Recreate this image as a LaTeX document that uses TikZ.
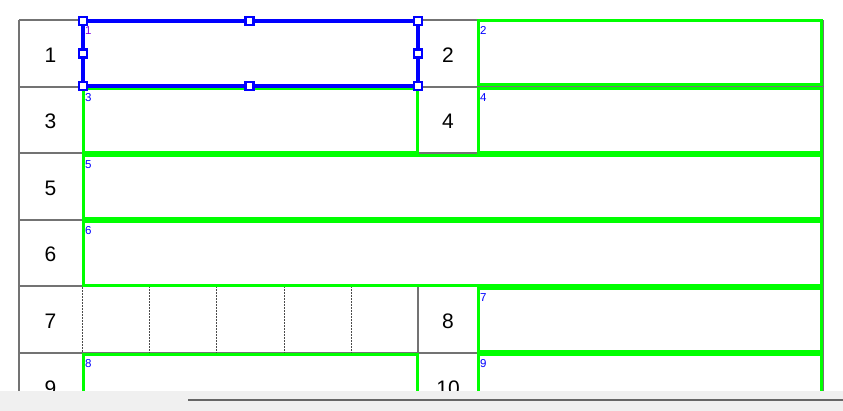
\documentclass[tikz,border=0pt]{standalone}
\usepackage{fontspec}
\setmainfont{Liberation Sans}
\begin{document}
\begin{tikzpicture}[x=1pt,y=-1pt,
  gridline/.style={draw=gray!90!black,line width=1.5pt},
  dotline/.style={draw=gray!60!black,line width=0.8pt,dash pattern=on 2pt off 1pt},
  greenbox/.style={draw={rgb,255:red,0;green,255;blue,0},line width=3pt},
  selbox/.style={draw={rgb,255:red,0;green,0;blue,255},line width=3.2pt},
  handle/.style={draw={rgb,255:red,0;green,0;blue,255},fill=white,line width=2.8pt,minimum size=8pt,inner sep=0pt,shape=rectangle},
  lbl/.style={inner sep=0pt,font=\fontsize{21}{21}\selectfont},
  idx/.style={inner sep=0pt,anchor=north west,text={rgb,255:red,0;green,0;blue,255},font=\fontsize{11.5}{11.5}\selectfont},
]
\useasboundingbox (0,0) rectangle (843,410);
\fill[white] (0,0) rectangle (843,410);
\begin{scope}
\clip (0,0) rectangle (843,391);
% horizontal grid lines
\foreach \yy in {20,87,153,220,286,353,420}
  \draw[gridline] (19,\yy) -- (823,\yy);
% vertical grid lines
\draw[gridline] (19,20) -- (19,420);
\draw[gridline] (823,20) -- (823,420);
\draw[gridline] (418,20) -- (418,153);
\draw[gridline] (478,20) -- (478,153);
\draw[gridline] (418,286) -- (418,420);
\draw[gridline] (478,286) -- (478,420);
\draw[dotline] (82,20) -- (82,420);
\foreach \xx in {149,216,284,351}
  \draw[dotline] (\xx,286) -- (\xx,353);
% row labels
\node[lbl] (n1) at (50.5,55) {1};
\node[lbl] (n2) at (448,55) {2};
\node[lbl] (n3) at (50.5,121.5) {3};
\node[lbl] (n4) at (448,121.5) {4};
\node[lbl] (n5) at (50.5,188) {5};
\node[lbl] (n6) at (50.5,254.5) {6};
\node[lbl] (n7) at (50.5,321) {7};
\node[lbl] (n8) at (448,321) {8};
\node[lbl] (n9) at (50.5,388) {9};
\node[lbl] (n10) at (448,388) {10};
% green boxes
\draw[greenbox] (478,20.7) rectangle (821,84.8);
\draw[greenbox] (83,88.5) rectangle (417,152);
\draw[greenbox] (478,88.5) rectangle (821,152);
\draw[greenbox] (83,155) rectangle (821,218.5);
\draw[greenbox] (83,221.5) rectangle (821,285);
\draw[greenbox] (478,288) rectangle (821,351.5);
\draw[greenbox] (83,354.5) rectangle (417,420);
\draw[greenbox] (478,354.5) rectangle (821,420);
% index labels
\node[idx,text={rgb,255:red,130;green,0;blue,230}] (i1) at (85,26.5) {1};
\node[idx] (i2) at (480,26.5) {2};
\node[idx] (i3) at (85,93.5) {3};
\node[idx] (i4) at (480,93.5) {4};
\node[idx] (i5) at (85,160) {5};
\node[idx] (i6) at (85,226.5) {6};
\node[idx] (i7) at (480,293) {7};
\node[idx] (i8) at (85,359.5) {8};
\node[idx] (i9) at (480,359.5) {9};
% selection box
\draw[selbox] (83,21) rectangle (418,86);
\foreach \hx/\hy [count=\k] in {83/21,249.5/21,418/21,83/53.5,418/53.5,83/86,249.5/86,418/86}
  \node[handle] (h\k) at (\hx,\hy) {};
\end{scope}
% scrollbar
\fill[gray!12] (-5,391) rectangle (848,415);
\draw[gray!80!black,line width=2pt] (188,400) -- (848,400);
\end{tikzpicture}
\end{document}
